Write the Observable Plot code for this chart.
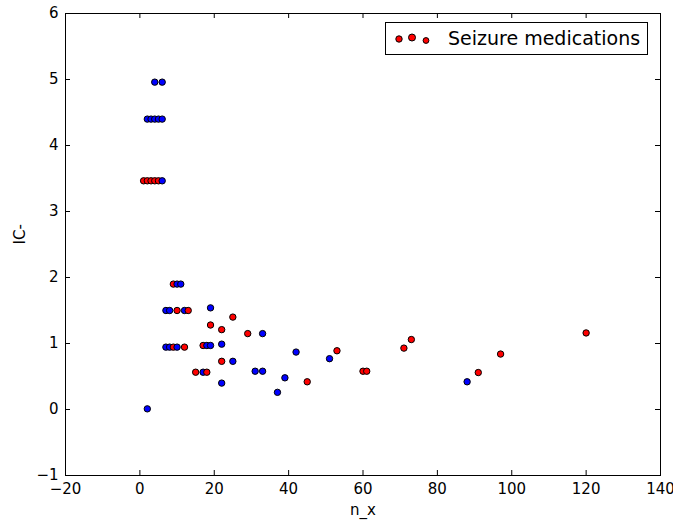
<!DOCTYPE html>
<html>
<head>
<meta charset="utf-8">
<script src="https://cdn.jsdelivr.net/npm/d3@7"></script>
<script src="https://cdn.jsdelivr.net/npm/@observablehq/plot@0.6"></script>
<style>
  html, body { margin: 0; padding: 0; background: #fff; }
  #wrap { position: relative; width: 673px; height: 525px; }
  #legend {
    position: absolute; left: 385px; top: 22px; width: 263px; height: 33px;
    border: 1px solid #000; background: #fff; box-sizing: border-box;
    font-family: "DejaVu Sans", sans-serif; font-size: 19px; color: #000;
  }
  #legend svg { position: absolute; left: 0; top: 0; }
  #legend span { position: absolute; left: 62px; top: 4px; white-space: nowrap; }
</style>
</head>
<body>
<div id="wrap"></div>
<script>
// n_x (x), IC- (y), and which group each point belongs to
const nX = [1, 2, 3, 4, 5, 6,
  2, 3, 4, 5, 6,
  4, 6,
  2,
  7, 8, 10, 12, 13,
  7, 8, 9, 10, 12,
  9, 10, 11,
  15, 17, 18,
  17, 18, 19,
  19, 19, 22, 22, 22, 22,
  25, 25, 29, 31, 33, 33,
  37, 39, 42, 45, 51, 53,
  60, 61, 71, 73, 88, 91, 97, 120];
const icValues = [3.465, 3.465, 3.465, 3.465, 3.465, 3.465,
  4.40, 4.40, 4.40, 4.40, 4.40,
  4.96, 4.96,
  0.01,
  1.50, 1.50, 1.50, 1.50, 1.50,
  0.945, 0.945, 0.945, 0.945, 0.945,
  1.90, 1.90, 1.90,
  0.565, 0.565, 0.565,
  0.97, 0.97, 0.97,
  1.54, 1.28, 1.21, 0.99, 0.73, 0.40,
  1.40, 0.73, 1.15, 0.58, 1.15, 0.58,
  0.26, 0.48, 0.87, 0.42, 0.77, 0.89,
  0.58, 0.58, 0.93, 1.06, 0.42, 0.56, 0.84, 1.16];
const kinds = ["r", "r", "r", "r", "r", "b",
  "b", "b", "b", "b", "b",
  "b", "b",
  "b",
  "b", "b", "r", "b", "r",
  "b", "b", "r", "b", "r",
  "r", "b", "b",
  "r", "b", "r",
  "r", "b", "b",
  "b", "r", "r", "b", "r", "b",
  "r", "b", "r", "b", "b", "b",
  "b", "b", "b", "r", "b", "r",
  "r", "r", "r", "r", "b", "r", "r", "r"];
const xTicks = [-20, 0, 20, 40, 60, 80, 100, 120, 140];
const yTicks = [-1, 0, 1, 2, 3, 4, 5, 6];
const legendLabel = "Seizure medications";
const xLabel = "n_x";
const yLabel = "IC-";

const points = nX.map((x, i) => ({x, y: icValues[i], kind: kinds[i]}));

const W = 673, H = 525;
const mL = 65, mR = 13, mT = 13, mB = 50;
const plotW = W - mL - mR, plotH = H - mT - mB;
const tl = 5;
const fmt = d => d < 0 ? "\u2212" + (-d) : String(d);

const chart = Plot.plot({
  width: W, height: H,
  marginLeft: mL, marginRight: mR, marginTop: mT, marginBottom: mB,
  style: {fontFamily: "DejaVu Sans, sans-serif", fontSize: "15px", background: "#fff", color: "#000", overflow: "visible"},
  x: {domain: [-20, 140], ticks: xTicks, tickFormat: fmt, label: null},
  y: {domain: [-1, 6], ticks: yTicks, tickFormat: fmt, label: null},
  color: {domain: ["r", "b"], range: ["#ff0000", "#0000ff"]},
  marks: [
    Plot.axisX({ticks: xTicks, tickFormat: fmt, tickSize: 0, tickPadding: 8, fontSize: 15, label: null}),
    Plot.axisY({ticks: yTicks, tickFormat: fmt, tickSize: 0, tickPadding: 7, fontSize: 15, label: null}),
    Plot.tickX(xTicks, {x: d => d, insetTop: plotH - tl, stroke: "#000"}),
    Plot.tickX(xTicks, {x: d => d, insetBottom: plotH - tl, stroke: "#000"}),
    Plot.tickY(yTicks, {y: d => d, insetRight: plotW - tl, stroke: "#000"}),
    Plot.tickY(yTicks, {y: d => d, insetLeft: plotW - tl, stroke: "#000"}),
    Plot.dot(points, {x: "x", y: "y", fill: "kind", stroke: "#000", strokeWidth: 1, r: 3.2}),
    Plot.frame({stroke: "#000", strokeWidth: 1}),
    Plot.text([xLabel], {frameAnchor: "bottom", dy: 39, fontSize: 15, text: d => d}),
    Plot.text([yLabel], {frameAnchor: "left", dx: -45, rotate: -90, fontSize: 15, text: d => d})
  ]
});

const wrap = document.getElementById("wrap");
wrap.appendChild(chart);

// legend overlay (inside plot area, top-right)
const leg = document.createElement("div");
leg.id = "legend";
const ls = d3.create("svg").attr("width", 60).attr("height", 31);
const legendDots = [{cx: 13, cy: 16, r: 3.2}, {cx: 26, cy: 14.5, r: 3.5}, {cx: 40, cy: 17.5, r: 2.9}];
ls.selectAll("circle").data(legendDots).join("circle")
  .attr("cx", d => d.cx).attr("cy", d => d.cy).attr("r", d => d.r)
  .attr("fill", "#ff0000").attr("stroke", "#000").attr("stroke-width", 1);
leg.appendChild(ls.node());
const sp = document.createElement("span");
sp.textContent = legendLabel;
leg.appendChild(sp);
wrap.appendChild(leg);
</script>
</body>
</html>
